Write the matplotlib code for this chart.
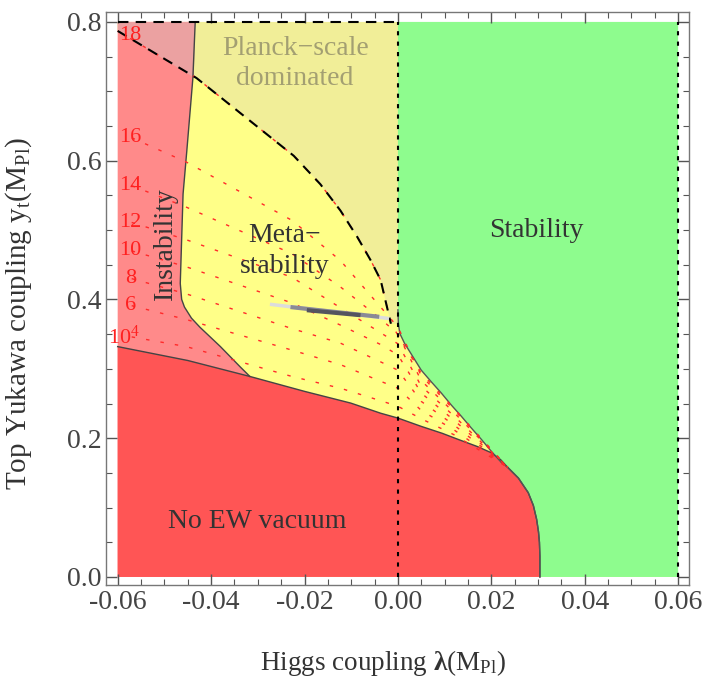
import numpy as np
import matplotlib
matplotlib.use("Agg")
import matplotlib.pyplot as plt
from matplotlib.ticker import MultipleLocator, FormatStrFormatter

# plot range of the scan
LAM_MIN, LAM_MAX = -0.06, 0.06
YT_MAX = 0.8

# region boundaries (lambda, y_t)
instab_lam = [-0.0434, -0.0439, -0.0452, -0.0460, -0.0466, -0.0463, -0.0457, -0.0442, -0.0424, -0.0380, -0.0338, -0.0317]
instab_yt = [0.800, 0.719, 0.614, 0.552, 0.423, 0.400, 0.389, 0.373, 0.360, 0.332, 0.303, 0.289]

noew_lam = [-0.0600, -0.0450, -0.0317, -0.0200, -0.0101, -0.0037, 0.0, 0.0050, 0.0095, 0.0130,
            0.0170, 0.0200, 0.0220, 0.0235, 0.0258, 0.0279, 0.0290, 0.0297, 0.0301, 0.0303, 0.0304, 0.0304]
noew_yt = [0.332, 0.312, 0.289, 0.2675, 0.2506, 0.236, 0.229, 0.217, 0.207, 0.198,
           0.188, 0.179, 0.169, 0.158, 0.1425, 0.1215, 0.103, 0.083, 0.065, 0.050, 0.030, 0.0]

stab_lam = [0.0, 0.0, 0.0001, 0.0004, 0.0014, 0.0032, 0.0050, 0.0071, 0.0093, 0.0114, 0.0136,
            0.0157, 0.0179, 0.0200, 0.0222, 0.0235, 0.0258, 0.0279, 0.0290, 0.0297, 0.0301, 0.0303, 0.0304, 0.0304]
stab_yt = [0.800, 0.385, 0.365, 0.351, 0.337, 0.3175, 0.298, 0.2816, 0.265, 0.248, 0.2314,
           0.2148, 0.198, 0.181, 0.1646, 0.158, 0.1425, 0.1215, 0.103, 0.083, 0.065, 0.050, 0.030, 0.0]

planck_lam = [-0.0600, -0.0431, -0.0223, -0.0166, -0.0123, -0.0087, -0.0058, -0.0037, -0.0015]
planck_yt = [0.787, 0.719, 0.607, 0.566, 0.528, 0.490, 0.456, 0.428, 0.365]
planck_corner = (-0.0437, 0.720)  # where the dashed line meets the instability edge

# lifetime contours (log10 of tau), common lambda grid
cont_lam = [-0.057, -0.0453, -0.0227, -0.0123, -0.0037, 0.0, 0.005, 0.012, 0.0235]
cont_labels = ["16", "14", "12", "10", "8", "6", "10$^4$"]
cont_yt = [
    [0.633, 0.598, 0.514, 0.456, 0.389, 0.360, 0.290, 0.241, 0.158],
    [0.564, 0.533, 0.466, 0.418, 0.372, 0.350, 0.283, 0.237, 0.158],
    [0.511, 0.486, 0.432, 0.388, 0.352, 0.336, 0.275, 0.232, 0.158],
    [0.470, 0.447, 0.395, 0.363, 0.335, 0.320, 0.265, 0.226, 0.158],
    [0.430, 0.408, 0.358, 0.337, 0.310, 0.298, 0.253, 0.219, 0.158],
    [0.391, 0.371, 0.327, 0.306, 0.282, 0.272, 0.240, 0.212, 0.158],
    [0.346, 0.332, 0.289, 0.272, 0.254, 0.246, 0.228, 0.205, 0.158],
]
# the 18 contour runs along the Planck line, then down to the tip
c18_lam = planck_lam + [0.005, 0.012, 0.0235]
c18_yt = planck_yt + [0.294, 0.243, 0.158]
cont_label_lam = -0.0573
cont_label_yt = [0.633, 0.564, 0.511, 0.470, 0.430, 0.391, 0.346]

# SM point with its uncertainty band
sm_lam_wide = [-0.0274, -0.0019]
sm_yt_wide = [0.393, 0.3725]
sm_lam_mid = [-0.0230, -0.0040]
sm_yt_mid = [0.389, 0.375]
sm_lam_core = [-0.0195, -0.0080]
sm_yt_core = [0.3845, 0.3773]

RED = "#ff5555"
LIGHT_RED = "#ff8a8a"
YELLOW = "#ffff88"
GREEN = "#8efc8e"
KHAKI = "#f1ee98"
PINK = "#eba1a1"

plt.rcParams.update({
    "font.family": "Liberation Serif",
    "mathtext.fontset": "custom",
    "mathtext.rm": "Liberation Serif",
    "mathtext.it": "Liberation Serif:italic",
    "mathtext.bf": "Liberation Serif:bold",
})

fig = plt.figure(figsize=(7.02, 6.77), dpi=100)
ax = fig.add_axes([0.151, 0.136, 0.831, 0.847])

# background: metastable
ax.fill([LAM_MIN, LAM_MAX, LAM_MAX, LAM_MIN], [0, 0, YT_MAX, YT_MAX], color=YELLOW, lw=0)

# instability (light red)
ax.fill([LAM_MIN] + instab_lam + [instab_lam[-1], LAM_MIN],
        [YT_MAX] + instab_yt + [0, 0], color=LIGHT_RED, lw=0)

# Planck-scale dominated
ax.fill(planck_lam[::-1] + [LAM_MIN, 0.0, 0.0],
        planck_yt[::-1] + [YT_MAX, YT_MAX, planck_yt[-1]], color=KHAKI, lw=0)
ax.fill([LAM_MIN, instab_lam[0], planck_corner[0], LAM_MIN],
        [YT_MAX, YT_MAX, planck_corner[1], planck_yt[0]], color=PINK, lw=0)

# stability (green)
ax.fill(stab_lam + [LAM_MAX, LAM_MAX], stab_yt + [0, YT_MAX], color=GREEN, lw=0)

# no EW vacuum (red)
ax.fill([LAM_MIN] + noew_lam, [0] + noew_yt, color=RED, lw=0)

# boundary lines
ax.plot(instab_lam, instab_yt, color="#444444", lw=1)
ax.plot(noew_lam, noew_yt, color="#444444", lw=1)
ax.plot(stab_lam[1:], stab_yt[1:], color="#555555", lw=1)

# lifetime contours
dot = (0, (2.5, 8))
for yt in cont_yt:
    ax.plot(cont_lam, yt, color="#ff2a2a", lw=1, linestyle=dot)
ax.plot(c18_lam, c18_yt, color="#ff2a2a", lw=1, linestyle=dot)
for lab, yl in zip(cont_labels, cont_label_yt):
    xl = cont_label_lam - (0.0013 if "^" in lab else 0.0)
    ax.text(xl, yl, lab, color="#ff2020", fontsize=16, ha="center", va="center")
ax.text(cont_label_lam, planck_yt[0] - 0.007, "18", color="#ff2020", fontsize=16,
        ha="center", va="center")

# Planck line and guides
ax.plot(planck_lam, planck_yt, color="black", lw=1.5, linestyle=(0, (5, 3.5)))
ax.plot([LAM_MIN, 0.0], [YT_MAX, YT_MAX], color="black", lw=1.5, linestyle=(0, (5, 3.5)))
ax.plot([0.0, 0.0], [0, YT_MAX], color="black", lw=1.5, linestyle=(0, (2, 3)))
ax.plot([LAM_MAX, LAM_MAX], [0, YT_MAX], color="black", lw=1.5, linestyle=(0, (2, 3)))

# SM estimate
ax.plot(sm_lam_wide, sm_yt_wide, color="#dcdcdc", lw=2.5, solid_capstyle="butt")
ax.plot(sm_lam_mid, sm_yt_mid, color="#8a8a96", lw=3, solid_capstyle="butt")
ax.plot(sm_lam_core, sm_yt_core, color="#55555f", lw=3, solid_capstyle="butt")

# region labels
ax.text(-0.022, 0.74, "Planck\u2212scale\ndominated", color="#a39f72", fontsize=20,
        ha="center", va="center", linespacing=1.25)
ax.text(-0.0243, 0.47, "Meta\u2212\nstability", color="#333333", fontsize=20,
        ha="center", va="center", linespacing=1.3)
ax.text(-0.0498, 0.48, "Instability", color="#333333", fontsize=20, rotation=90,
        ha="center", va="center")
ax.text(0.0297, 0.50, "Stability", color="#333333", fontsize=20, ha="center", va="center")
ax.text(-0.0302, 0.08, "No EW vacuum", color="#333333", fontsize=20, ha="center", va="center")

# frame and ticks
ax.set_xlim(-0.0625, 0.0624)
ax.set_ylim(-0.0115, 0.815)
ax.xaxis.set_major_locator(MultipleLocator(0.02))
ax.xaxis.set_minor_locator(MultipleLocator(0.005))
ax.yaxis.set_major_locator(MultipleLocator(0.2))
ax.yaxis.set_minor_locator(MultipleLocator(0.05))
ax.xaxis.set_major_formatter(FormatStrFormatter("%.2f"))
ax.yaxis.set_major_formatter(FormatStrFormatter("%.1f"))
ax.tick_params(which="both", direction="in", top=True, right=True, color="#555555",
               labelcolor="#444444", labelsize=20)
ax.tick_params(which="major", length=8, width=1)
ax.tick_params(which="minor", length=4, width=0.8)
for s in ax.spines.values():
    s.set_color("#777777")
    s.set_linewidth(1)

ax.set_xlabel("Higgs coupling $\\mathbf{\\lambda}$(M$_{\\rm Pl}$)", fontsize=19.5,
              color="#333333")
ax.set_ylabel("Top Yukawa coupling y$_{\\rm t}$(M$_{\\rm Pl}$)", fontsize=21,
              color="#333333")
ax.xaxis.set_label_coords(0.475, -0.11)
ax.yaxis.set_label_coords(-0.123, 0.4725)

plt.savefig("out.png", dpi=100)
plt.close()
